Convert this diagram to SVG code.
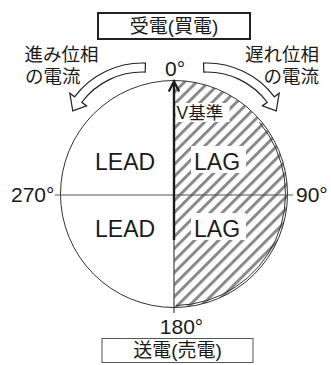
<svg xmlns="http://www.w3.org/2000/svg" width="331" height="365" viewBox="0 0 331 365">
<style>
.t{font-family:"Liberation Sans","Noto Sans CJK JP",sans-serif;fill:#1a1a1a}
.jp{font-size:19px}
.deg{font-size:21px}
.big{font-size:23px}
.bg{fill:#fff;stroke:none}
.carrow{fill:#fff;stroke:#222;stroke-width:1.2;stroke-linejoin:miter}
</style>
<defs>
<pattern id="hatch" patternUnits="userSpaceOnUse" width="8.5" height="8.5" patternTransform="rotate(45)">
<rect x="0" y="0" width="3" height="8.5" fill="#8a8a8a"/>
</pattern>
<clipPath id="rhalf">
<path d="M174 80.5 A113.5 113.5 0 0 1 174 307.5 Z"/>
</clipPath>
</defs>
<rect width="331" height="365" fill="#fff"/>

<g id="hatch-area">
<rect x="174" y="80" width="114" height="228" fill="url(#hatch)" clip-path="url(#rhalf)"/>
<rect class="bg" x="175.5" y="103" width="54" height="19"/>
<rect class="bg" x="191" y="146" width="55" height="27"/>
<rect class="bg" x="191" y="213" width="55" height="27"/>
</g>

<g id="circle">
<circle cx="174" cy="194" r="113.5" fill="none" stroke="#333" stroke-width="1"/>
<path d="M259.4 122.3 A111.5 111.5 0 0 1 176 305.5" fill="none" stroke="#333" stroke-width="1"/>
<line x1="55" y1="195" x2="293" y2="195" stroke="#555" stroke-width="1"/>
<line x1="174" y1="240" x2="174" y2="313" stroke="#444" stroke-width="1.2"/>
</g>

<g id="top-box">
<rect x="98" y="13" width="152" height="26" fill="#fff" stroke="#222" stroke-width="2"/>
<text class="t jp" x="174" y="33" text-anchor="middle">受電(買電)</text>
</g>

<g id="bottom-box">
<rect x="102" y="338.5" width="151" height="24" fill="#fff" stroke="#555" stroke-width="1"/>
<text class="t jp" x="177.5" y="357" text-anchor="middle">送電(売電)</text>
</g>

<g id="labels">
<text class="t deg" x="175" y="76" text-anchor="middle">0°</text>
<text class="t deg" x="181.5" y="334" text-anchor="middle">180°</text>
<text class="t deg" x="11" y="201.5">270°</text>
<text class="t deg" x="296" y="201.5">90°</text>
<text class="t big" x="95" y="170">LEAD</text>
<text class="t big" x="95" y="237">LEAD</text>
<text class="t big" x="194" y="170">LAG</text>
<text class="t big" x="194" y="237">LAG</text>
<text class="t" style="font-size:17.5px" x="176.5" y="119">V基準</text>
<text class="t" style="font-size:18.5px" x="24.5" y="61">進み位相</text>
<text class="t" style="font-size:18.5px" x="25" y="83">の電流</text>
<text class="t" style="font-size:18.5px" x="319" y="61" text-anchor="end">遅れ位相</text>
<text class="t" style="font-size:18.5px" x="319" y="83" text-anchor="end">の電流</text>
</g>

<g id="connectors">
<path class="carrow" d="M145.5 63.05 A85 85 0 0 0 74.6 96.85 L69.8 93.2 L72.75 110.9 L86.6 105.9 L81.8 102.26 A76 76 0 0 1 145.15 72.05 Z"/>
<path class="carrow" d="M203.5 63.05 A85 85 0 0 1 274.4 96.85 L279.2 93.2 L276.25 110.9 L262.4 105.9 L267.2 102.26 A76 76 0 0 0 203.85 72.05 Z"/>
<line x1="174" y1="83" x2="174" y2="240" stroke="#1a1a1a" stroke-width="2.4"/>
<polyline points="168.8,91.5 174,81.5 179.2,91.5" fill="none" stroke="#1a1a1a" stroke-width="2.2" stroke-linejoin="miter"/>
</g>
</svg>
